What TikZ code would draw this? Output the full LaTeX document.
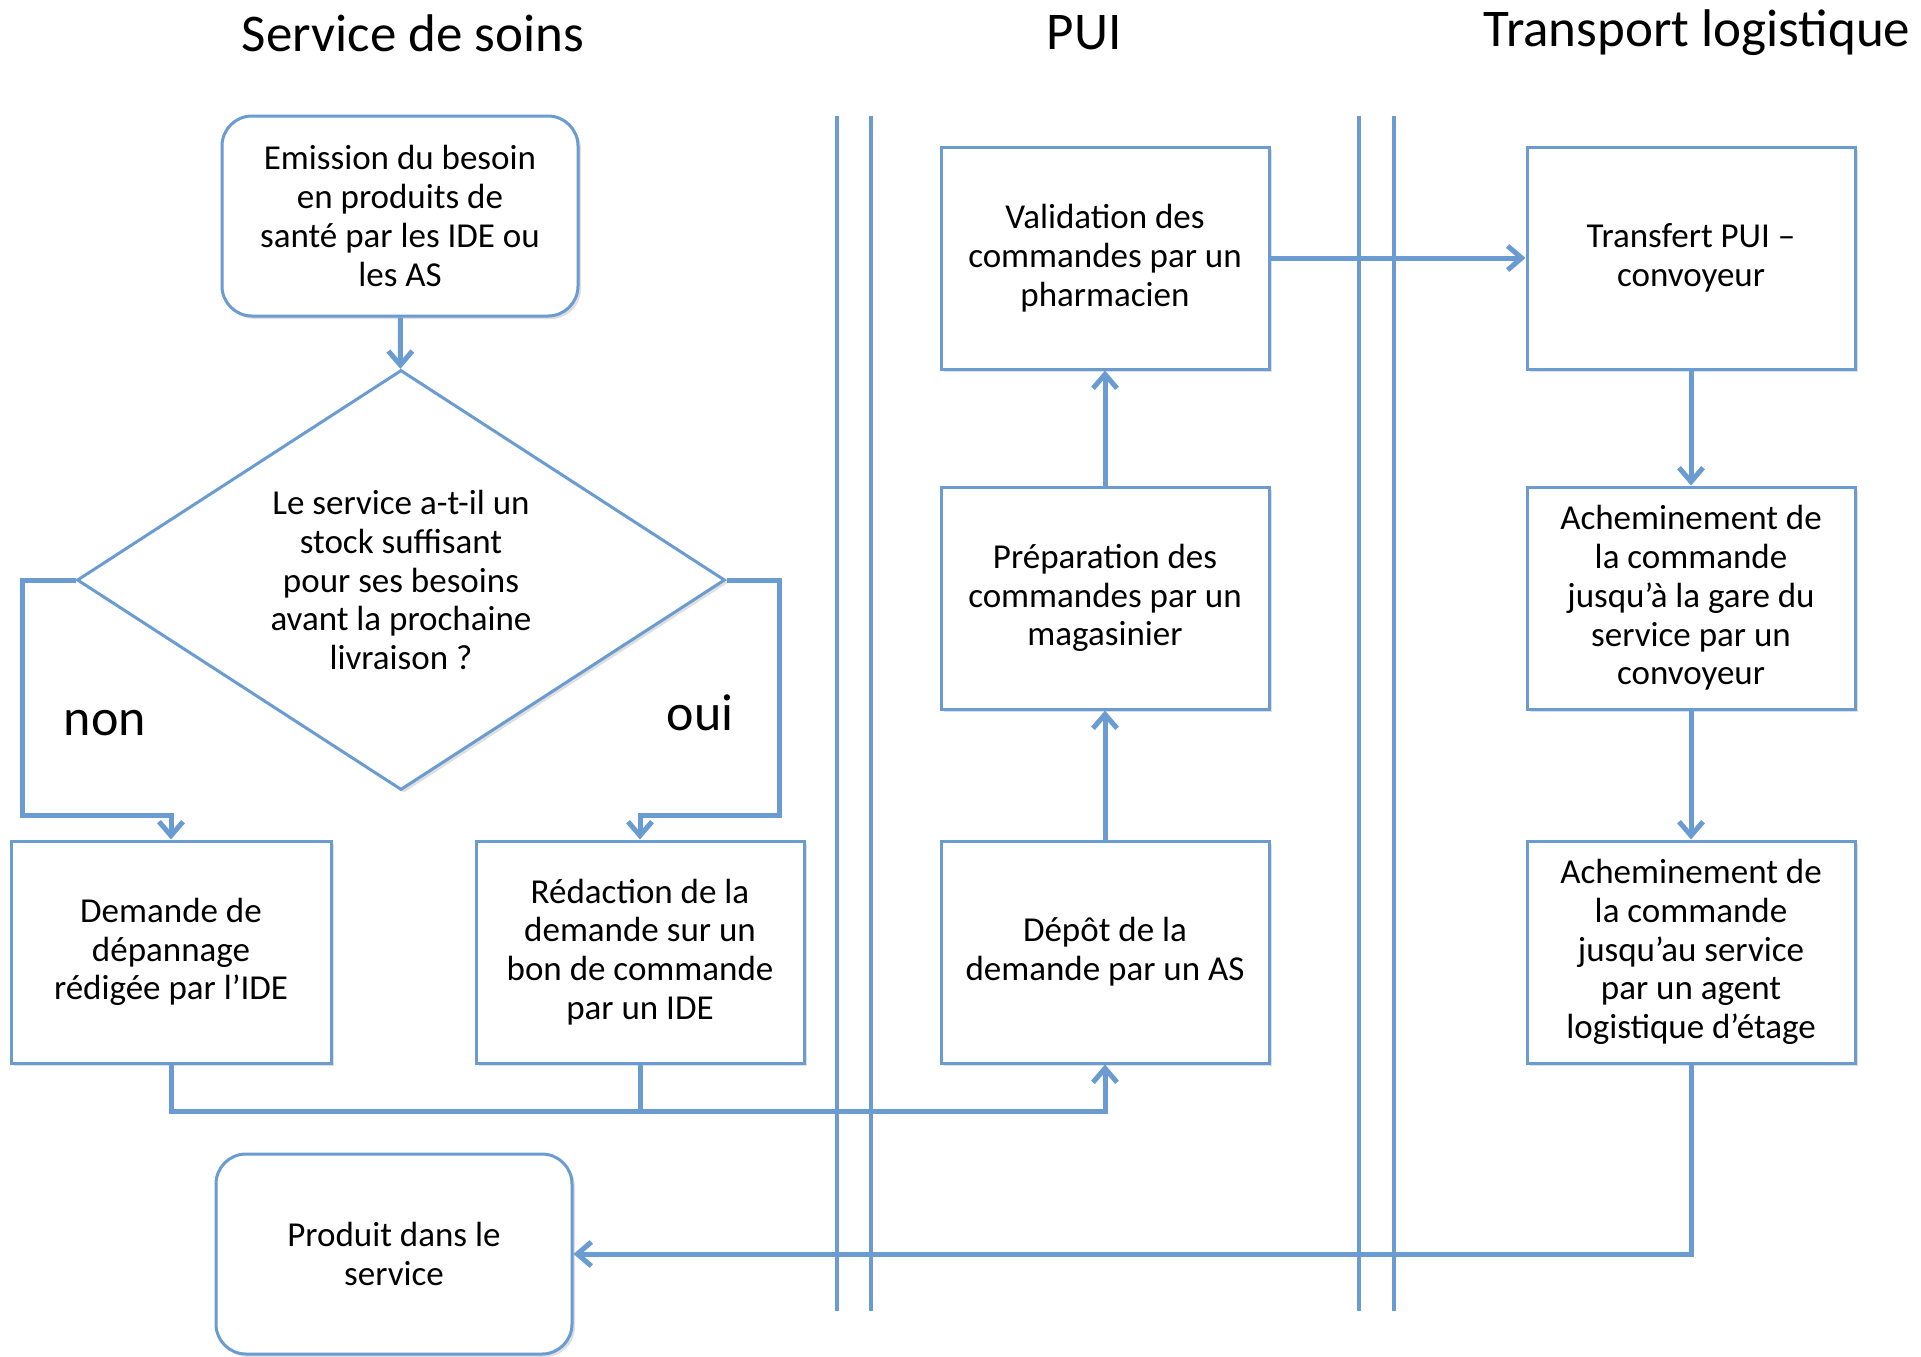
\documentclass[tikz,border=0pt]{standalone}
\usepackage{fontspec}
\setmainfont{Carlito}
\usetikzlibrary{shapes.geometric,arrows.meta,shadows}
\definecolor{flowblue}{HTML}{6A9BD1}
\tikzset{
 box/.style={draw=flowblue,line width=1.5pt,fill=white,align=center,inner sep=0pt,
  minimum width=164pt,minimum height=111pt,font=\fontsize{17.5}{19.4}\selectfont,
  drop shadow={shadow xshift=1.5pt,shadow yshift=-1.5pt,opacity=0.25}},
 roundbox/.style={box,rounded corners=15pt,minimum width=178pt,minimum height=100pt},
 decision/.style={box,diamond,aspect=1.54,minimum width=324pt,minimum height=210pt},
 lanetitle/.style={font=\fontsize{26.5}{30}\selectfont,inner sep=0pt},
 answer/.style={font=\fontsize{26}{30}\selectfont,inner sep=0pt},
 lane/.style={flowblue,line width=2.3pt},
 flow/.style={flowblue,line width=2.5pt,-{Straight Barb[length=7pt,width=12pt]}},
 link/.style={flowblue,line width=2.5pt}
}
\begin{document}
\begin{tikzpicture}[x=0.5pt,y=-0.5pt]
 \useasboundingbox (0,0) rectangle (1921,1356);
 % titles of the three lanes
 \node [lanetitle] (tsoins) at (413,33) {Service de soins};
 \node [lanetitle] (tpui) at (1084,33) {PUI};
 \node [lanetitle] (ttrans) at (1697,33) {Transport logistique};
 % lane separators
 \draw [lane] (837,116) -- (837,1311);
 \draw [lane] (871,116) -- (871,1311);
 \draw [lane] (1359,116) -- (1359,1311);
 \draw [lane] (1394,116) -- (1394,1311);
 % Service de soins
 \node [roundbox] (emis) at (400,216) {Emission du besoin\\en produits de\\santé par les IDE ou\\les AS};
 \node [decision] (quest) at (401,580) {Le service a-t-il un\\stock suffisant\\pour ses besoins\\avant la prochaine\\livraison ?};
 \node [box,minimum width=160pt] (depan) at (171,952) {Demande de\\dépannage\\rédigée par l’IDE};
 \node [box] (redac) at (640,952) {Rédaction de la\\demande sur un\\bon de commande\\par un IDE};
 \node [roundbox] (prod) at (394,1254) {Produit dans le\\service};
 \node [answer] (non) at (105,723) {non};
 \node [answer] (oui) at (700,713) {oui};
 % PUI
 \node [box] (valid) at (1105,258) {Validation des\\commandes par un\\pharmacien};
 \node [box] (prep) at (1105,598) {Préparation des\\commandes par un\\magasinier};
 \node [box] (depot) at (1105,952) {Dépôt de la\\demande par un AS};
 % Transport logistique
 \node [box] (transf) at (1691,258) {Transfert PUI –\\convoyeur};
 \node [box] (ach1) at (1691,598) {Acheminement de\\la commande\\jusqu’à la gare du\\service par un\\convoyeur};
 \node [box] (ach2) at (1691,952) {Acheminement de\\la commande\\jusqu’au service\\par un agent\\logistique d’étage};
 % connectors
 \coordinate (nonc) at (22,815);
 \coordinate (ouic) at (779,815);
 \coordinate (join) at (1105,1111);
 \draw [flow] (emis) -- (quest);
 \draw [flow] (quest.west) -| (nonc) -| (depan.north);
 \draw [flow] (quest.east) -| (ouic) -| (redac.north);
 \draw [flow] (depan.south) |- (join) -- (depot.south);
 \draw [link] (redac.south) -- (redac.south |- join);
 \draw [flow] (depot) -- (prep);
 \draw [flow] (prep) -- (valid);
 \draw [flow] (valid) -- (transf);
 \draw [flow] (transf) -- (ach1);
 \draw [flow] (ach1) -- (ach2);
 \draw [flow] (ach2.south) |- (prod.east);
\end{tikzpicture}
\end{document}
